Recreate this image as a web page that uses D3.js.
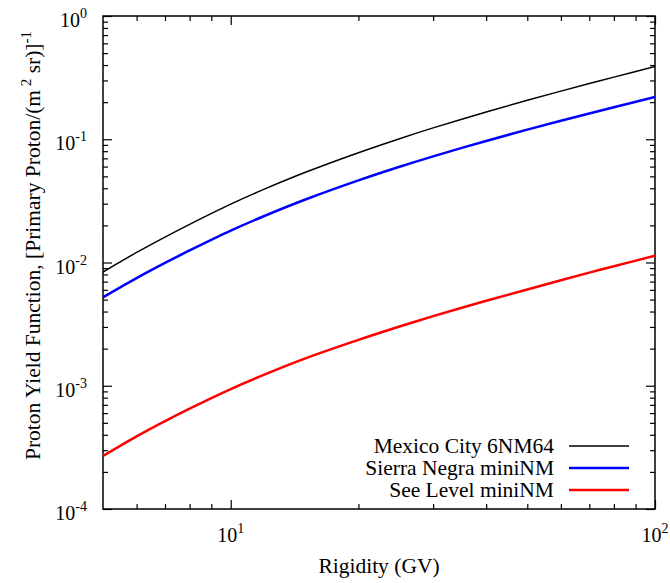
<!DOCTYPE html>
<html>
<head>
<meta charset="utf-8">
<script src="https://cdn.jsdelivr.net/npm/d3@7"></script>
<style>
  html, body { margin: 0; padding: 0; background: #fff; }
  svg { display: block; }
  text { font-family: "Liberation Serif", "Times New Roman", serif; fill: #000; }
</style>
</head>
<body>
<svg id="chart" width="670" height="583"></svg>
<script>
// ---- data ----
const rigidity = [5, 6, 7, 8, 10, 12, 15, 20, 25, 30, 40, 50, 60, 70, 80, 100];
const mexicoCity = [0.00837, 0.01207, 0.01609, 0.0204, 0.02977, 0.03937, 0.05396, 0.0778, 0.1011, 0.1237, 0.1664, 0.2073, 0.2458, 0.2829, 0.3191, 0.3896];
const sierraNegra = [0.00522, 0.00747, 0.00992, 0.01252, 0.01814, 0.02384, 0.03243, 0.04634, 0.05977, 0.07265, 0.09687, 0.1198, 0.1411, 0.1616, 0.1816, 0.2199];
const seaLevel = [0.000269, 0.000388, 0.000516, 0.000652, 0.00094, 0.001231, 0.001668, 0.002356, 0.003025, 0.00367, 0.004893, 0.006047, 0.00718, 0.008271, 0.009329, 0.011355];
const seriesNames = ["Mexico City 6NM64", "Sierra Negra miniNM", "See Level miniNM"];
const seriesColors = ["#000000", "#0000ff", "#ff0000"];
const seriesWidths = [1.5, 2.5, 2.5];
const xMajorTicks = [10, 100];
const xMinorTicks = [6, 7, 8, 9, 20, 30, 40, 50, 60, 70, 80, 90];
const yMajorTicks = [1e-4, 1e-3, 1e-2, 1e-1, 1];
const yMinorTicks = [];
yMajorTicks.slice(0, -1).forEach(d => { for (let k = 2; k <= 9; k++) yMinorTicks.push(d * k); });
const xTitle = "Rigidity (GV)";

// ---- layout ----
const L = 103, R = 655, T = 16, B = 509;
const svg = d3.select("#chart");
const x = d3.scaleLog().domain([5, 100]).range([L, R]);
const y = d3.scaleLog().domain([1e-4, 1]).range([B, T]);

const MAJ = 9, MIN = 5;
function styleAxis(g) {
  g.select(".domain").remove();
  g.selectAll(".tick line").attr("stroke", "#000").attr("stroke-width", 1.2);
  g.selectAll(".tick text").remove();
}
[[B, d3.axisTop], [T, d3.axisBottom]].forEach(([pos, ax]) => {
  svg.append("g").attr("transform", `translate(0,${pos})`)
    .call(ax(x).tickValues(xMajorTicks).tickSize(MAJ).tickFormat(() => "")).call(styleAxis);
  svg.append("g").attr("transform", `translate(0,${pos})`)
    .call(ax(x).tickValues(xMinorTicks).tickSize(MIN).tickFormat(() => "")).call(styleAxis);
});
[[L, d3.axisRight], [R, d3.axisLeft]].forEach(([pos, ax]) => {
  svg.append("g").attr("transform", `translate(${pos},0)`)
    .call(ax(y).tickValues(yMajorTicks).tickSize(MAJ).tickFormat(() => "")).call(styleAxis);
  svg.append("g").attr("transform", `translate(${pos},0)`)
    .call(ax(y).tickValues(yMinorTicks).tickSize(MIN).tickFormat(() => "")).call(styleAxis);
});

svg.append("rect").attr("x", L).attr("y", T).attr("width", R - L).attr("height", B - T)
  .attr("fill", "none").attr("stroke", "#000").attr("stroke-width", 1.5);

// tick labels
const FS = 20, TFS = 21.5, SUP = 14, TSUP = 15;
xMajorTicks.forEach(v => {
  const t = svg.append("text").attr("x", x(v)).attr("y", B + 33)
    .attr("text-anchor", "middle").style("font-size", FS + "px");
  t.append("tspan").text("10");
  t.append("tspan").attr("dy", -9).style("font-size", SUP + "px").text(Math.round(Math.log10(v)));
});
yMajorTicks.forEach(v => {
  const t = svg.append("text").attr("x", L - 16).attr("y", y(v) + 11)
    .attr("text-anchor", "end").style("font-size", FS + "px");
  t.append("tspan").text("10");
  t.append("tspan").attr("dy", -9).style("font-size", SUP + "px").text(Math.round(Math.log10(v)));
});

// axis titles
svg.append("text").attr("x", (L + R) / 2).attr("y", 573).attr("text-anchor", "middle")
  .style("font-size", TFS + "px").text(xTitle);
const yt = svg.append("text").attr("transform", `translate(40,${(T + B) / 2 - 17}) rotate(-90)`)
  .attr("text-anchor", "middle").style("font-size", TFS + "px");
yt.append("tspan").text("Proton Yield Function, [Primary Proton/(m");
yt.append("tspan").attr("dy", -9).style("font-size", TSUP + "px").text(" 2");
yt.append("tspan").attr("dy", 9).text(" sr)]");
yt.append("tspan").attr("dy", -9).style("font-size", TSUP + "px").text("-1");

// curves
const series = [mexicoCity, sierraNegra, seaLevel];
const line = d3.line().x(d => x(d[0])).y(d => y(d[1])).curve(d3.curveCatmullRom.alpha(0.5));
svg.append("clipPath").attr("id", "clip").append("rect")
  .attr("x", L).attr("y", T).attr("width", R - L).attr("height", B - T);
series.forEach((s, i) => {
  svg.append("path").datum(rigidity.map((r, j) => [r, s[j]]))
    .attr("d", line).attr("fill", "none")
    .attr("stroke", seriesColors[i]).attr("stroke-width", seriesWidths[i])
    .attr("clip-path", "url(#clip)");
});

// legend
const legY = [446, 468, 490];
seriesNames.forEach((n, i) => {
  svg.append("text").attr("x", 554).attr("y", legY[i] + 7).attr("text-anchor", "end")
    .style("font-size", TFS + "px").text(n);
  svg.append("line").attr("x1", 569).attr("x2", 629).attr("y1", legY[i]).attr("y2", legY[i])
    .attr("stroke", seriesColors[i]).attr("stroke-width", seriesWidths[i]);
});
</script>
</body>
</html>
